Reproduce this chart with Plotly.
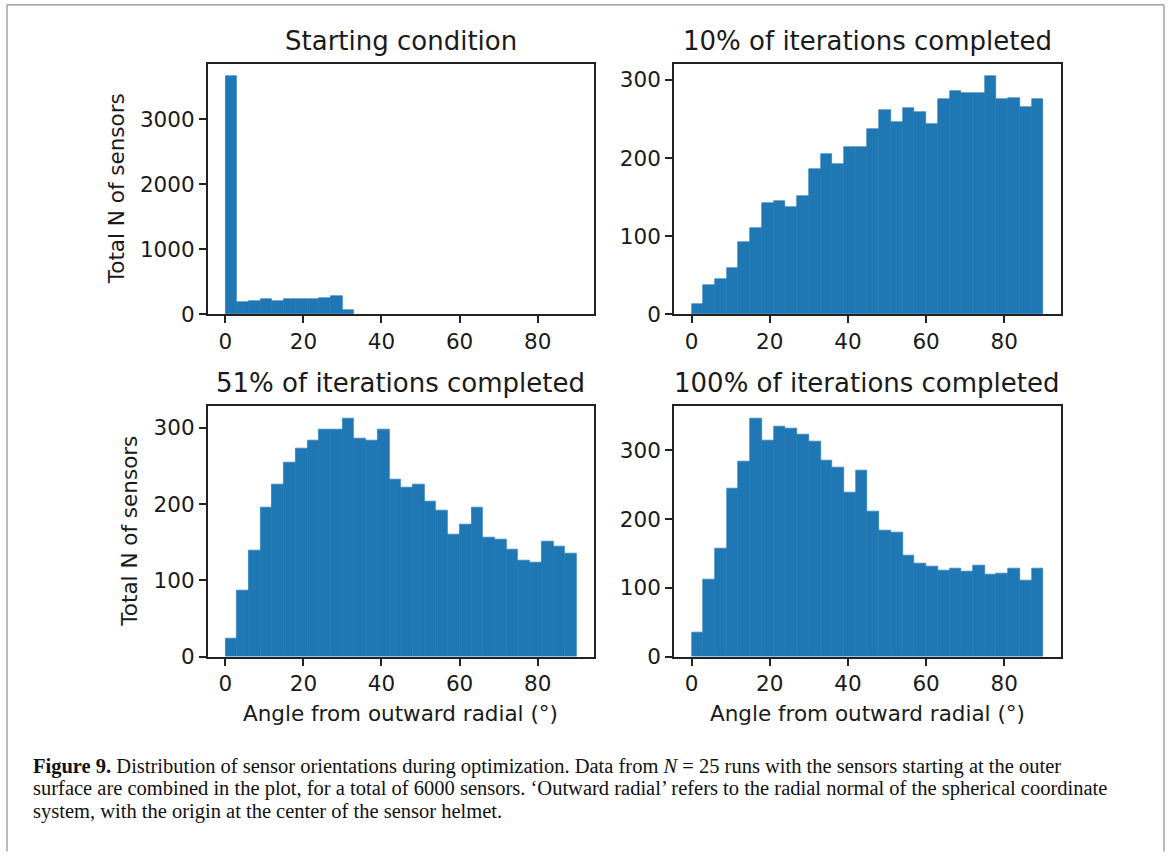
import numpy as np
import plotly.graph_objects as go

# Histogram bins: 30 bins of 3 degrees between 0 and 90
BIN_LO, BIN_HI, N_BINS = 0, 90, 30
edges = np.linspace(BIN_LO, BIN_HI, N_BINS + 1)
centers = (edges[:-1] + edges[1:]) / 2
bin_width = edges[1] - edges[0]

titles = [
    "Starting condition",
    "10% of iterations completed",
    "51% of iterations completed",
    "100% of iterations completed",
]

# Sensor counts per angle bin
counts_start = [3670, 193, 208, 239, 213, 239, 239, 239, 259, 289,
                76, 0, 0, 0, 0, 0, 0, 0, 0, 0,
                0, 0, 0, 0, 0, 0, 0, 0, 0, 0]
counts_10 = [13, 38, 45, 60, 92, 110, 143, 145, 138, 151,
             186, 205, 193, 214, 214, 237, 262, 246, 264, 259,
             243, 276, 286, 283, 283, 305, 275, 277, 265, 276]
counts_51 = [24, 87, 139, 196, 226, 255, 273, 283, 297, 298,
             312, 286, 283, 298, 232, 222, 225, 203, 191, 160,
             173, 196, 156, 154, 141, 126, 124, 151, 144, 135]
counts_100 = [35, 113, 158, 245, 284, 346, 314, 335, 332, 323,
              313, 285, 275, 238, 270, 211, 184, 180, 147, 135,
              131, 126, 129, 124, 132, 119, 121, 129, 111, 129]

all_counts = [counts_start, counts_10, counts_51, counts_100]

x_ticks = [0, 20, 40, 60, 80]
y_ticks = [
    [0, 1000, 2000, 3000],
    [0, 100, 200, 300],
    [0, 100, 200, 300],
    [0, 100, 200, 300],
]

xlabel = "Angle from outward radial (°)"
ylabel = "Total N of sensors"

caption_lines = [
    "<b>Figure 9.</b> Distribution of sensor orientations during optimization. "
    "Data from <i>N</i> = 25 runs with the sensors starting at the outer",
    "surface are combined in the plot, for a total of 6000 sensors. "
    "\u2018Outward radial\u2019 refers to the radial normal of the spherical coordinate",
    "system, with the origin at the center of the sensor helmet.",
]

# ---- layout geometry (pixels) ----
W, H = 1170, 856
col_px = [(207.7, 594.3), (674.0, 1060.9)]
row_px = [(65.0, 319.3), (412.7, 667.0)]

BAR_COLOR = "#1f77b4"
TXT = "#1a1a1a"
SPINE = "#222222"
FONT = "DejaVu Sans"
TICK_SIZE = 21.5
TITLE_SIZE = 26


def px_x(x):
    return x / W


def px_y(y):
    return 1 - y / H


fig = go.Figure()
layout = dict(
    width=W, height=H,
    margin=dict(l=0, r=0, t=0, b=0),
    paper_bgcolor="white", plot_bgcolor="white",
    showlegend=False,
    font=dict(family=FONT, color=TXT),
    bargap=0,
)

annotations = []
for i, counts in enumerate(all_counts):
    r, c = divmod(i, 2)
    sfx = "" if i == 0 else str(i + 1)
    # same-colour outline closes the hairline seams between adjacent bins;
    # empty bins get no outline so nothing is drawn for them
    seam = [0.6 if v > 0 else 0 for v in counts]
    fig.add_trace(go.Bar(
        x=centers, y=counts, width=bin_width,
        marker=dict(color=BAR_COLOR, line=dict(width=seam, color=BAR_COLOR)),
        xaxis="x" + sfx, yaxis="y" + sfx,
        hoverinfo="x+y",
    ))
    x0, x1 = col_px[c]
    y0, y1 = row_px[r]
    ymax = max(counts) * 1.05
    axis_common = dict(
        showgrid=False, zeroline=False,
        showline=True, mirror=True, linecolor=SPINE, linewidth=1.6,
        ticks="outside", ticklen=7, tickwidth=1.6, tickcolor=SPINE,
        tickfont=dict(family=FONT, size=TICK_SIZE, color=TXT),
    )
    layout["xaxis" + sfx] = dict(
        axis_common,
        domain=[px_x(x0), px_x(x1)],
        range=[BIN_LO - 0.05 * (BIN_HI - BIN_LO), BIN_HI + 0.05 * (BIN_HI - BIN_LO)],
        tickmode="array", tickvals=x_ticks,
        anchor="y" + sfx,
    )
    layout["yaxis" + sfx] = dict(
        axis_common,
        domain=[px_y(y1), px_y(y0)],
        range=[0, ymax],
        tickmode="array", tickvals=y_ticks[i],
        anchor="x" + sfx,
    )
    # panel title
    annotations.append(dict(
        text=titles[i], x=(px_x(x0) + px_x(x1)) / 2, y=px_y(y0),
        xref="paper", yref="paper", xanchor="center", yanchor="bottom",
        yshift=6, showarrow=False,
        font=dict(family=FONT, size=TITLE_SIZE, color=TXT),
    ))

# y-axis titles on the left column
for r, xc in zip(range(2), [116, 130]):
    y0, y1 = row_px[r]
    annotations.append(dict(
        text=ylabel, x=px_x(xc), y=px_y((y0 + y1) / 2),
        xref="paper", yref="paper", xanchor="center", yanchor="middle",
        textangle=-90, showarrow=False,
        font=dict(family=FONT, size=TICK_SIZE, color=TXT),
    ))

# x-axis titles under the bottom row
for c in range(2):
    x0, x1 = col_px[c]
    annotations.append(dict(
        text=xlabel, x=(px_x(x0) + px_x(x1)) / 2, y=px_y(725),
        xref="paper", yref="paper", xanchor="center", yanchor="middle",
        showarrow=False,
        font=dict(family=FONT, size=TICK_SIZE, color=TXT),
    ))

# caption
for k, line in enumerate(caption_lines):
    annotations.append(dict(
        text=line, x=px_x(31), y=px_y(778 + 23 * k),
        xref="paper", yref="paper", xanchor="left", yanchor="middle",
        showarrow=False, align="left",
        font=dict(family="Liberation Serif", size=20.5, color="#111111"),
    ))

layout["annotations"] = annotations

# thin frame around the figure panel
frame = dict(type="line", xref="paper", yref="paper",
             line=dict(color="#8c8c8c", width=1.2))
layout["shapes"] = [
    dict(frame, x0=px_x(7), x1=px_x(7), y0=-0.01, y1=px_y(5)),
    dict(frame, x0=px_x(7), x1=px_x(1164), y0=px_y(5), y1=px_y(5)),
    dict(frame, x0=px_x(1164), x1=px_x(1164), y0=-0.01, y1=px_y(5)),
]

fig.update_layout(**layout)
fig.write_html("out.html")
